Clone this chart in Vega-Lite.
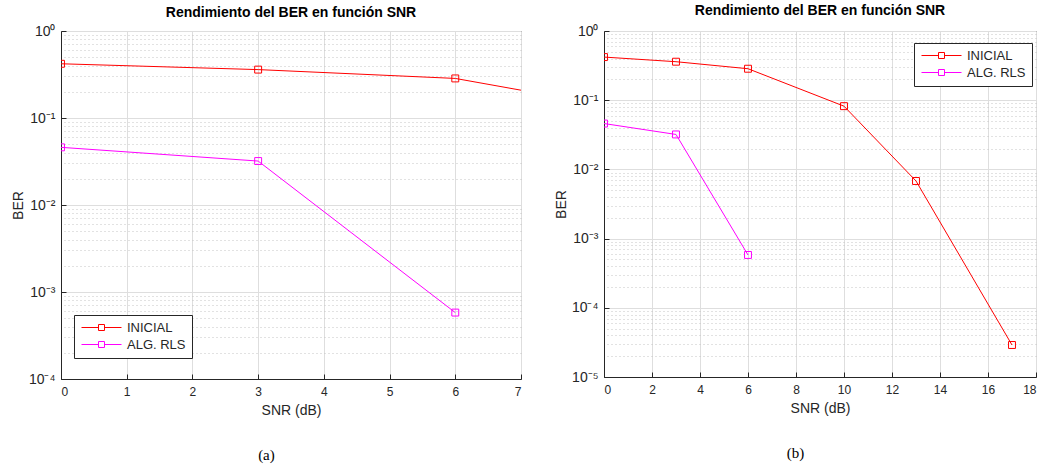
{
  "$schema": "https://vega.github.io/schema/vega-lite/v6.json",
  "background": "white",
  "padding": {"left": 10, "top": 3, "right": 8, "bottom": 5},
  "spacing": 31,
  "resolve": {"scale": {"color": "independent"}, "legend": {"color": "independent"}},
  "datasets": {
    "ber": [
      {"snr": 0, "ber": 0.42, "serie": "INICIAL"},
      {"snr": 3, "ber": 0.36, "serie": "INICIAL"},
      {"snr": 6, "ber": 0.285, "serie": "INICIAL"},
      {"snr": 10, "ber": 0.082, "serie": "INICIAL"},
      {"snr": 13, "ber": 0.0068, "serie": "INICIAL"},
      {"snr": 17, "ber": 0.000029, "serie": "INICIAL"},
      {"snr": 0, "ber": 0.046, "serie": "ALG. RLS"},
      {"snr": 3, "ber": 0.032, "serie": "ALG. RLS"},
      {"snr": 6, "ber": 0.00058, "serie": "ALG. RLS"}
    ]
  },
  "config": {
    "font": "Liberation Sans",
    "view": {"stroke": "#262626", "strokeWidth": 1},
    "axis": {
      "domainColor": "#262626",
      "tickColor": "#262626",
      "labelFont": "Liberation Sans",
      "labelFontSize": 12,
      "labelColor": "#262626",
      "titleFont": "Liberation Sans",
      "titleFontSize": 14,
      "titleFontWeight": "normal",
      "titleColor": "#262626"
    },
    "title": {"font": "Liberation Sans", "fontSize": 14, "fontWeight": "bold", "color": "#000000", "offset": 4},
    "legend": {
      "title": null,
      "labelFont": "Liberation Sans",
      "labelFontSize": 13,
      "labelColor": "#262626",
      "strokeColor": "#262626",
      "fillColor": "white",
      "padding": 6,
      "rowPadding": 3,
      "symbolType": "M-1,0H2.4M3.6,0H7M2.4,-0.6H3.6V0.6H2.4Z",
      "symbolSize": 100,
      "symbolStrokeWidth": 1,
      "symbolFillColor": "transparent",
      "labelOffset": 34
    }
  },
  "hconcat": [
    {
      "title": {"text": "(a)", "orient": "bottom", "anchor": "middle", "font": "Liberation Serif", "fontSize": 15, "fontWeight": "normal", "color": "#000000", "offset": 30},
      "vconcat": [
        {
          "title": "Rendimiento del BER en función SNR",
          "width": 460,
          "height": 348,
          "data": {"name": "ber"},
          "encoding": {
            "x": {
              "field": "snr", "type": "quantitative",
              "scale": {"domain": [0, 7], "nice": false},
              "axis": {"values": [0, 1, 2, 3, 4, 5, 6, 7], "grid": true, "gridColor": "#dedede", "title": "SNR (dB)", "tickSize": -5, "labelPadding": 12, "titlePadding": 6}
            },
            "color": {
              "field": "serie", "type": "nominal",
              "scale": {"domain": ["INICIAL", "ALG. RLS"], "range": ["#ff0000", "#ff00ff"]},
              "legend": {"orient": "none", "legendX": 13, "legendY": 284}
            }
          },
          "layer": [
            {
              "mark": {"type": "line", "clip": true, "strokeWidth": 1},
              "encoding": {
                "y": {
                  "field": "ber", "type": "quantitative",
                  "scale": {"type": "log", "domain": [0.0001, 1], "nice": false},
                  "axis": {
                    "orient": "left",
                    "values": [1, 0.1, 0.01, 0.001, 0.0001],
                    "labelExpr": "datum.value >= 0.5 ? '10⁰' : datum.value >= 0.05 ? '10⁻¹' : datum.value >= 0.005 ? '10⁻²' : datum.value >= 0.0005 ? '10⁻³' : datum.value >= 0.00005 ? '10⁻⁴' : '10⁻⁵'",
                    "labelFontSize": 14,
                    "grid": true, "gridColor": "#dedede",
                    "title": "BER", "tickSize": -5, "labelPadding": 11, "titlePadding": 3
                  }
                }
              }
            },
            {
              "mark": {"type": "point", "shape": "square", "filled": false, "clip": true, "size": 48, "strokeWidth": 1, "opacity": 1},
              "encoding": {
                "y": {
                  "field": "ber", "type": "quantitative",
                  "scale": {"type": "log", "domain": [0.0001, 1], "nice": false},
                  "axis": {
                    "orient": "right",
                    "values": [0.9, 0.8, 0.7, 0.6, 0.5, 0.4, 0.3, 0.2, 0.09, 0.08, 0.07, 0.06, 0.05, 0.04, 0.03, 0.02, 0.009, 0.008, 0.007, 0.006, 0.005, 0.004, 0.003, 0.002, 0.0009, 0.0008, 0.0007, 0.0006, 0.0005, 0.0004, 0.0003, 0.0002],
                    "grid": true, "gridColor": "#c4c4c4", "gridDash": [1, 3],
                    "labels": false, "ticks": false, "domain": false, "title": null
                  }
                }
              }
            }
          ],
          "resolve": {"axis": {"y": "independent"}}
        }
      ]
    },
    {
      "title": {"text": "(b)", "orient": "bottom", "anchor": "middle", "font": "Liberation Serif", "fontSize": 15, "fontWeight": "normal", "color": "#000000", "offset": 30},
      "vconcat": [
        {
          "title": {"text": "Rendimiento del BER en función SNR", "offset": 6},
          "width": 432,
          "height": 346,
          "data": {"name": "ber"},
          "encoding": {
            "x": {
              "field": "snr", "type": "quantitative",
              "scale": {"domain": [0, 18], "nice": false},
              "axis": {"values": [0, 2, 4, 6, 8, 10, 12, 14, 16, 18], "grid": true, "gridColor": "#dedede", "title": "SNR (dB)", "tickSize": -5, "labelPadding": 12, "titlePadding": 6}
            },
            "color": {
              "field": "serie", "type": "nominal",
              "scale": {"domain": ["INICIAL", "ALG. RLS"], "range": ["#ff0000", "#ff00ff"]},
              "legend": {"orient": "none", "legendX": 310, "legendY": 12}
            }
          },
          "layer": [
            {
              "mark": {"type": "line", "clip": true, "strokeWidth": 1},
              "encoding": {
                "y": {
                  "field": "ber", "type": "quantitative",
                  "scale": {"type": "log", "domain": [0.00001, 1], "nice": false},
                  "axis": {
                    "orient": "left",
                    "values": [1, 0.1, 0.01, 0.001, 0.0001, 0.00001],
                    "labelExpr": "datum.value >= 0.5 ? '10⁰' : datum.value >= 0.05 ? '10⁻¹' : datum.value >= 0.005 ? '10⁻²' : datum.value >= 0.0005 ? '10⁻³' : datum.value >= 0.00005 ? '10⁻⁴' : '10⁻⁵'",
                    "labelFontSize": 14,
                    "grid": true, "gridColor": "#dedede",
                    "title": "BER", "tickSize": -5, "labelPadding": 11, "titlePadding": 3
                  }
                }
              }
            },
            {
              "mark": {"type": "point", "shape": "square", "filled": false, "clip": true, "size": 48, "strokeWidth": 1, "opacity": 1},
              "encoding": {
                "y": {
                  "field": "ber", "type": "quantitative",
                  "scale": {"type": "log", "domain": [0.00001, 1], "nice": false},
                  "axis": {
                    "orient": "right",
                    "values": [0.9, 0.8, 0.7, 0.6, 0.5, 0.4, 0.3, 0.2, 0.09, 0.08, 0.07, 0.06, 0.05, 0.04, 0.03, 0.02, 0.009, 0.008, 0.007, 0.006, 0.005, 0.004, 0.003, 0.002, 0.0009, 0.0008, 0.0007, 0.0006, 0.0005, 0.0004, 0.0003, 0.0002, 0.00009, 0.00008, 0.00007, 0.00006, 0.00005, 0.00004, 0.00003, 0.00002],
                    "grid": true, "gridColor": "#c4c4c4", "gridDash": [1, 3],
                    "labels": false, "ticks": false, "domain": false, "title": null
                  }
                }
              }
            }
          ],
          "resolve": {"axis": {"y": "independent"}}
        }
      ]
    }
  ]
}
